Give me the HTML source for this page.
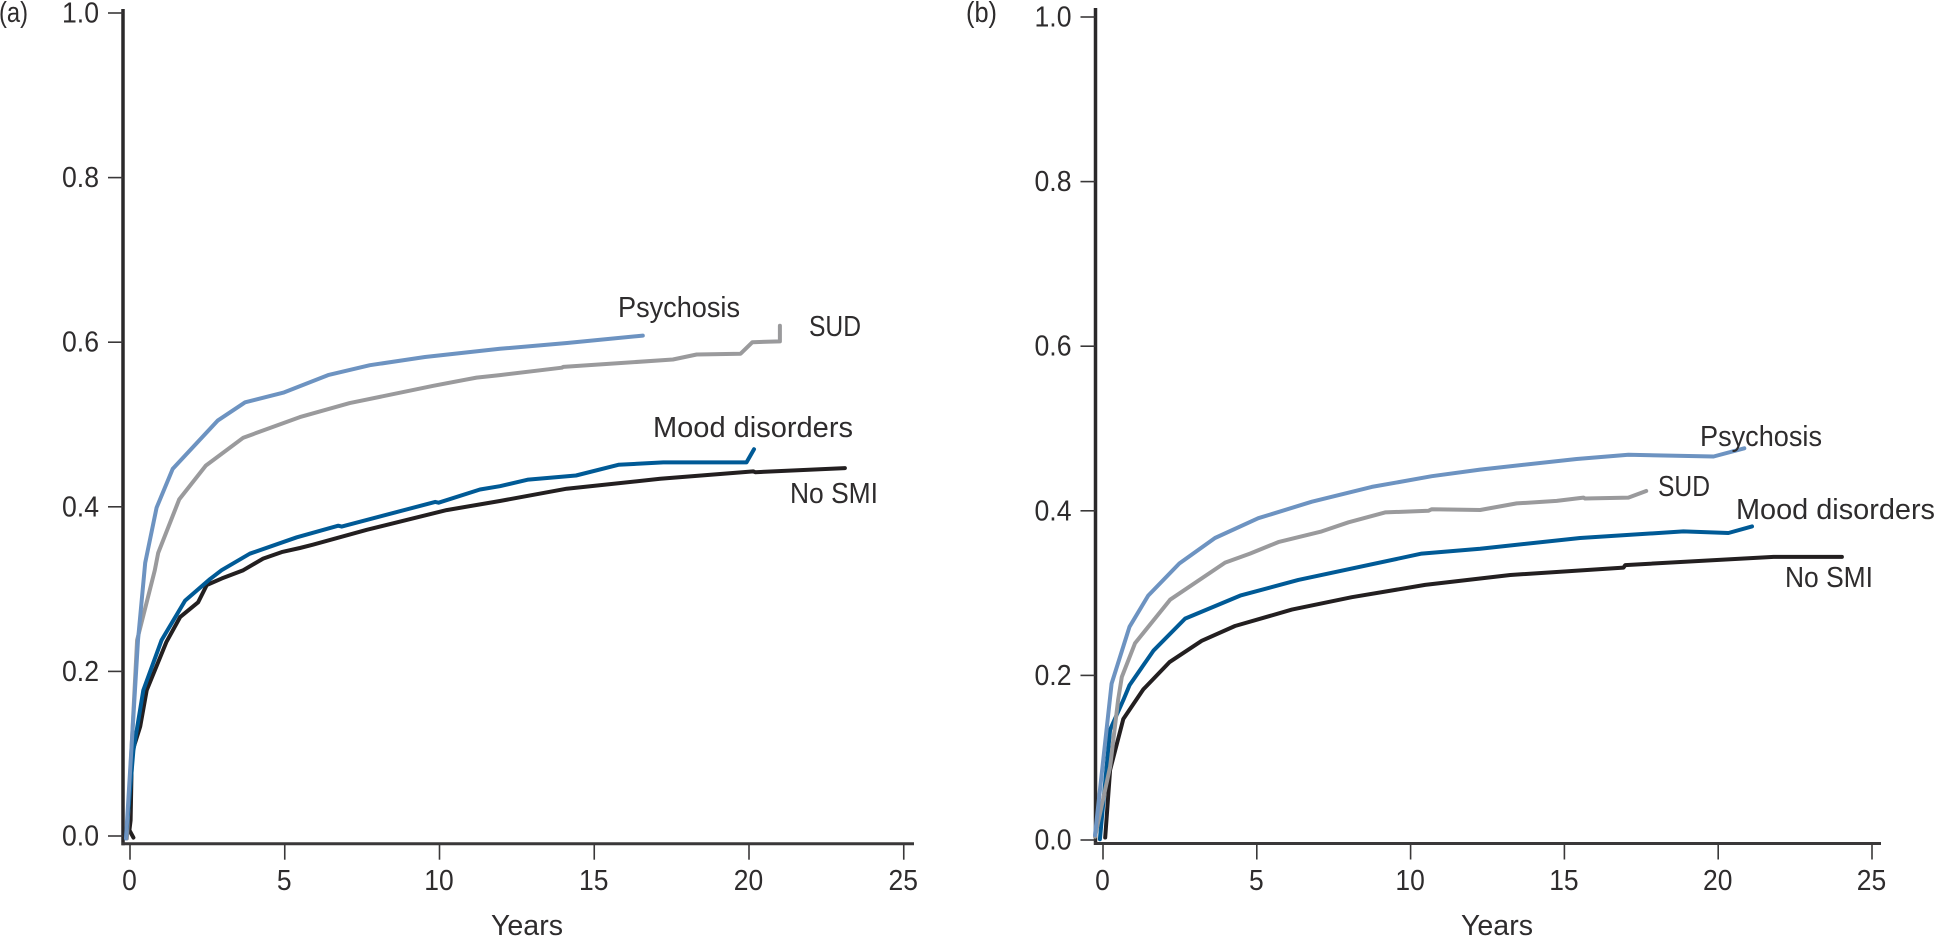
<!DOCTYPE html>
<html lang="en">
<head>
<meta charset="utf-8">
<title>Cumulative incidence by years: panels a and b</title>
<style>
  html, body { margin: 0; padding: 0; background: #ffffff; }
  body { width: 1935px; height: 937px; overflow: hidden; }
  svg { display: block; }
  text { font-family: "Liberation Sans", sans-serif; font-size: 29px; fill: #2e2c2d; }
</style>
</head>
<body>
<svg id="chart" xmlns="http://www.w3.org/2000/svg" width="1935" height="937" viewBox="0 0 1935 937">
  <rect width="1935" height="937" fill="#ffffff"/>
  <text x="-1" y="22" textLength="29" lengthAdjust="spacingAndGlyphs">(a)</text>
  <text x="966" y="22" textLength="31" lengthAdjust="spacingAndGlyphs">(b)</text>

  <text x="491" y="935" textLength="72" lengthAdjust="spacingAndGlyphs">Years</text>
  <text x="1461" y="935" textLength="72" lengthAdjust="spacingAndGlyphs">Years</text>

  <g id="marks-a"></g>
  <g id="marks-b"></g>

  <text x="618" y="317" textLength="122" lengthAdjust="spacingAndGlyphs">Psychosis</text>
  <text x="809" y="336" textLength="52" lengthAdjust="spacingAndGlyphs">SUD</text>
  <text x="653" y="437" textLength="200" lengthAdjust="spacingAndGlyphs">Mood disorders</text>
  <text x="790" y="503" textLength="88" lengthAdjust="spacingAndGlyphs">No SMI</text>

  <text x="1700" y="446" textLength="122" lengthAdjust="spacingAndGlyphs">Psychosis</text>
  <text x="1658" y="496" textLength="52" lengthAdjust="spacingAndGlyphs">SUD</text>
  <text x="1736" y="519" textLength="199" lengthAdjust="spacingAndGlyphs">Mood disorders</text>
  <text x="1785" y="587" textLength="88" lengthAdjust="spacingAndGlyphs">No SMI</text>
</svg>
<script>
// Axis tick labels
const xTicks = [0, 5, 10, 15, 20, 25];
const yTicks = [0.0, 0.2, 0.4, 0.6, 0.8, 1.0];

// Panel (a): years since start
const aPsychosisYears = [-0.13, 0.26, 0.49, 0.86, 1.38, 2.84, 3.72, 4.98, 6.40, 7.75, 9.53, 11.95, 14.12, 16.57];
const aPsychosisRisk = [-0.003, 0.238, 0.332, 0.399, 0.446, 0.505, 0.527, 0.539, 0.560, 0.572, 0.582, 0.592, 0.599, 0.608];
const aSudYears = [-0.10, 0.23, 0.80, 0.91, 1.59, 2.45, 3.66, 5.49, 7.10, 9.80, 11.20, 11.95, 13.95, 14.00, 17.54, 18.31, 19.73, 20.11, 21.00, 21.00];
const aSudRisk = [-0.003, 0.238, 0.323, 0.344, 0.409, 0.450, 0.484, 0.509, 0.526, 0.547, 0.557, 0.560, 0.569, 0.570, 0.579, 0.585, 0.586, 0.600, 0.601, 0.620];
const aMoodYears = [-0.13, 0.11, 0.43, 1.02, 1.78, 2.58, 2.96, 3.87, 5.39, 6.73, 6.84, 9.86, 9.97, 11.31, 11.95, 12.87, 14.41, 15.78, 17.23, 19.92, 20.16];
const aMoodRisk = [-0.002, 0.104, 0.177, 0.238, 0.286, 0.312, 0.323, 0.343, 0.363, 0.377, 0.376, 0.406, 0.405, 0.421, 0.425, 0.433, 0.438, 0.451, 0.454, 0.454, 0.470];
const aNoSmiYears = [0.11, -0.02, 0.02, 0.06, 0.33, 0.54, 1.18, 1.62, 2.20, 2.48, 2.97, 3.66, 4.30, 4.90, 5.49, 5.91, 7.65, 10.23, 11.95, 14.11, 17.13, 20.14, 20.20, 23.10];
const aNoSmiRisk = [-0.002, 0.007, 0.019, 0.101, 0.133, 0.177, 0.236, 0.266, 0.284, 0.305, 0.313, 0.323, 0.337, 0.345, 0.350, 0.354, 0.372, 0.396, 0.407, 0.422, 0.434, 0.443, 0.442, 0.447];

// Panel (b): years since start
const bPsychosisYears = [-0.26, 0.28, 0.86, 1.47, 2.48, 3.64, 5.05, 6.79, 8.74, 10.69, 12.26, 15.40, 17.08, 19.85, 20.85];
const bPsychosisRisk = [0.006, 0.190, 0.259, 0.297, 0.336, 0.367, 0.391, 0.411, 0.429, 0.442, 0.450, 0.463, 0.468, 0.466, 0.476];
const bSudYears = [-0.26, 0.23, 0.49, 0.61, 1.04, 2.18, 3.97, 4.78, 5.70, 7.11, 7.98, 9.17, 10.58, 10.69, 12.26, 13.45, 14.75, 15.62, 15.67, 17.08, 17.66];
const bSudRisk = [0.004, 0.089, 0.170, 0.198, 0.239, 0.292, 0.337, 0.348, 0.362, 0.375, 0.386, 0.398, 0.400, 0.402, 0.401, 0.409, 0.412, 0.416, 0.415, 0.416, 0.424];
const bMoodYears = [-0.10, 0.23, 0.66, 0.86, 1.64, 2.67, 4.46, 6.35, 10.36, 12.26, 15.51, 18.87, 20.33, 21.10];
const bMoodRisk = [0.001, 0.134, 0.170, 0.188, 0.230, 0.269, 0.297, 0.316, 0.348, 0.354, 0.367, 0.375, 0.373, 0.381];
const bNoSmiYears = [0.07, 0.23, 0.66, 1.31, 2.16, 3.21, 4.29, 6.14, 8.09, 10.47, 13.24, 16.92, 16.98, 21.80, 24.02];
const bNoSmiRisk = [0.003, 0.085, 0.147, 0.183, 0.216, 0.242, 0.260, 0.280, 0.295, 0.310, 0.322, 0.331, 0.334, 0.344, 0.344];

const seriesColors = { noSmi: '#231f20', mood: '#005a96', sud: '#9a9a9c', psychosis: '#6d93c1' };
const SVG_NS = 'http://www.w3.org/2000/svg';

function makeAxes(zeroX, perYear, zeroY, perUnit) {
  return {
    x: function (t) { return zeroX + perYear * t; },
    y: function (v) { return zeroY - perUnit * v; }
  };
}

function drawPanel(groupId, prefix, axes, frame, series) {
  const g = document.getElementById(groupId);

  const yAxis = document.createElementNS(SVG_NS, 'line');
  
  
  yAxis.setAttribute('x1', frame.axisX);
  yAxis.setAttribute('x2', frame.axisX);
  yAxis.setAttribute('y1', frame.top);
  yAxis.setAttribute('y2', frame.axisY + 1.5);
  yAxis.setAttribute('stroke', '#2b292a');
  yAxis.setAttribute('stroke-width', '3.5');
  g.appendChild(yAxis);

  const xAxis = document.createElementNS(SVG_NS, 'line');
  
  
  xAxis.setAttribute('x1', frame.axisX - 1.5);
  xAxis.setAttribute('x2', frame.right);
  xAxis.setAttribute('y1', frame.axisY);
  xAxis.setAttribute('y2', frame.axisY);
  xAxis.setAttribute('stroke', '#3a3839');
  xAxis.setAttribute('stroke-width', '3');
  g.appendChild(xAxis);

  xTicks.forEach(function (tick) {
    const px = axes.x(tick);
    const mark = document.createElementNS(SVG_NS, 'line');
    
    
    mark.setAttribute('x1', px);
    mark.setAttribute('x2', px);
    mark.setAttribute('y1', frame.axisY);
    mark.setAttribute('y2', frame.axisY + 16);
    mark.setAttribute('stroke', '#3a3839');
    mark.setAttribute('stroke-width', '1.6');
    g.appendChild(mark);

    const label = document.createElementNS(SVG_NS, 'text');
    
    
    label.setAttribute('x', px - 0.5);
    label.setAttribute('y', 890);
    label.setAttribute('text-anchor', 'middle');
    label.setAttribute('textLength', String(tick).length * 14.7);
    label.setAttribute('lengthAdjust', 'spacingAndGlyphs');
    label.textContent = String(tick);
    g.appendChild(label);
  });

  yTicks.forEach(function (tick) {
    const py = axes.y(tick);
    const mark = document.createElementNS(SVG_NS, 'line');
    
    
    mark.setAttribute('x1', frame.axisX - 15);
    mark.setAttribute('x2', frame.axisX);
    mark.setAttribute('y1', py);
    mark.setAttribute('y2', py);
    mark.setAttribute('stroke', '#3a3839');
    mark.setAttribute('stroke-width', '1.6');
    g.appendChild(mark);

    const label = document.createElementNS(SVG_NS, 'text');
    
    
    label.setAttribute('x', frame.axisX - 24);
    label.setAttribute('y', py + 9.5);
    label.setAttribute('text-anchor', 'end');
    label.setAttribute('textLength', 37);
    label.setAttribute('lengthAdjust', 'spacingAndGlyphs');
    label.textContent = tick.toFixed(1);
    g.appendChild(label);
  });

  series.forEach(function (s) {
    const points = s.years.map(function (t, i) {
      return axes.x(t).toFixed(1) + ',' + axes.y(s.risk[i]).toFixed(1);
    }).join(' ');
    const line = document.createElementNS(SVG_NS, 'polyline');
    
    
    line.setAttribute('points', points);
    line.setAttribute('fill', 'none');
    line.setAttribute('stroke', s.color);
    line.setAttribute('stroke-width', '4');
    line.setAttribute('stroke-linejoin', 'round');
    line.setAttribute('stroke-linecap', 'round');
    g.appendChild(line);
  });
}

drawPanel('marks-a', 'panel-a', makeAxes(130, 30.95, 836, 823),
  { axisX: 123, axisY: 843.7, top: 9, right: 914 },
  [
    { name: 'no-smi', years: aNoSmiYears, risk: aNoSmiRisk, color: seriesColors.noSmi },
    { name: 'sud', years: aSudYears, risk: aSudRisk, color: seriesColors.sud },
    { name: 'mood-disorders', years: aMoodYears, risk: aMoodRisk, color: seriesColors.mood },
    { name: 'psychosis', years: aPsychosisYears, risk: aPsychosisRisk, color: seriesColors.psychosis }
  ]);

drawPanel('marks-b', 'panel-b', makeAxes(1103, 30.76, 840, 823),
  { axisX: 1095.5, axisY: 843.5, top: 8, right: 1881 },
  [
    { name: 'no-smi', years: bNoSmiYears, risk: bNoSmiRisk, color: seriesColors.noSmi },
    { name: 'mood-disorders', years: bMoodYears, risk: bMoodRisk, color: seriesColors.mood },
    { name: 'sud', years: bSudYears, risk: bSudRisk, color: seriesColors.sud },
    { name: 'psychosis', years: bPsychosisYears, risk: bPsychosisRisk, color: seriesColors.psychosis }
  ]);
</script>
</body>
</html>
